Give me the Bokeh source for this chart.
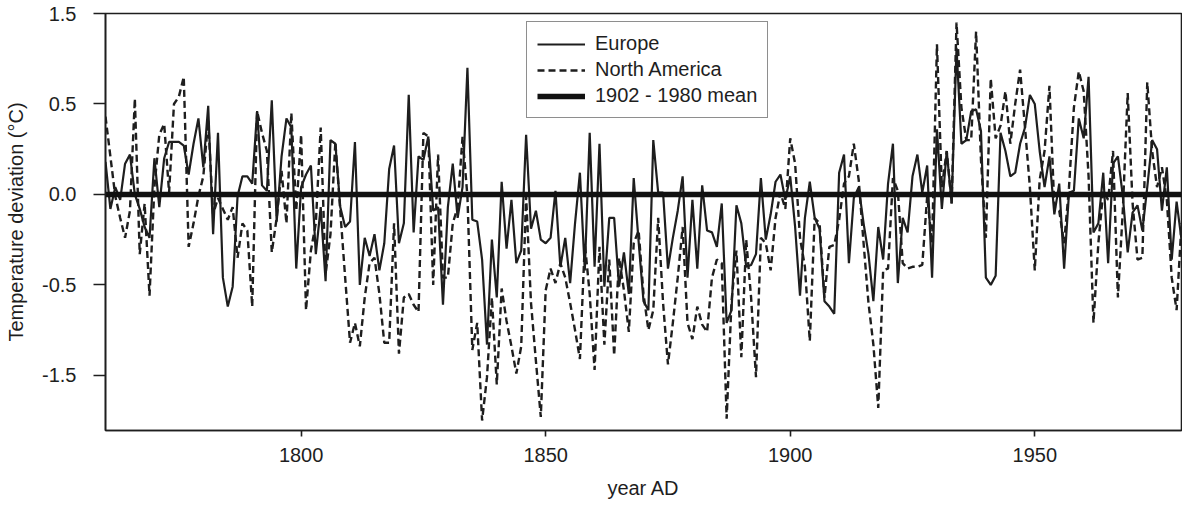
from bokeh.plotting import figure
from bokeh.models import Range1d, FixedTicker, Legend, LegendItem
from bokeh.embed import file_html
from bokeh.resources import INLINE

YEAR_START = 1760
YEAR_END = 1980
years = list(range(YEAR_START, YEAR_END + 1))

europe = [
    # 1760s
    0.18, -0.08, 0.04, -0.03, 0.17, 0.22, 0.00, -0.08, -0.18, -0.24,
    # 1770s
    0.20, -0.07, 0.20, 0.29, 0.29, 0.29, 0.27, 0.11, 0.28, 0.42,
    # 1780s
    0.15, 0.49, -0.22, 0.34, -0.46, -0.62, -0.51, -0.01, 0.10, 0.10,
    # 1790s
    0.06, 0.46, 0.05, 0.02, 0.52, -0.15, 0.21, 0.42, 0.37, -0.41,
    # 1800s
    0.04, 0.11, 0.16, -0.33, -0.07, -0.48, 0.30, 0.28, -0.07, -0.18,
    # 1810s
    -0.15, 0.29, -0.50, -0.24, -0.34, -0.22, -0.42, -0.27, 0.14, 0.27,
    # 1820s
    -0.27, -0.16, 0.55, -0.21, 0.21, 0.19, 0.32, -0.09, -0.07, -0.61,
    # 1830s
    -0.07, 0.17, -0.13, 0.04, 0.70, -0.14, -0.15, -0.36, -0.83, -0.25,
    # 1840s
    -0.57, 0.07, -0.30, -0.03, -0.38, -0.31, 0.33, -0.19, -0.09, -0.25,
    # 1850s
    -0.27, -0.24, 0.02, -0.40, -0.24, -0.49, -0.16, 0.12, -0.42, 0.34,
    # 1860s
    -0.40, 0.28, -0.51, -0.13, -0.13, -0.51, -0.32, -0.55, 0.09, -0.26,
    # 1870s
    -0.59, -0.64, 0.30, 0.01, 0.01, -0.41, -0.24, -0.09, 0.10, -0.46,
    # 1880s
    -0.03, -0.41, 0.05, -0.20, -0.21, -0.29, -0.05, -0.71, -0.64, -0.06,
    # 1890s
    -0.16, -0.40, -0.39, -0.33, 0.09, -0.25, -0.11, 0.07, 0.11, -0.03,
    # 1900s
    0.10, -0.18, -0.56, -0.13, 0.07, -0.13, -0.19, -0.59, -0.62, -0.66,
    # 1910s
    0.12, 0.22, -0.38, -0.02, 0.04, -0.16, -0.33, -0.59, -0.18, -0.36,
    # 1920s
    0.06, 0.28, -0.49, -0.13, -0.21, 0.10, 0.22, 0.01, 0.16, -0.46,
    # 1930s
    0.36, -0.08, 0.24, -0.05, 0.81, 0.28, 0.30, 0.46, 0.47, 0.35,
    # 1940s
    -0.46, -0.50, -0.45, 0.34, 0.24, 0.10, 0.12, 0.28, 0.37, 0.55,
    # 1950s
    0.50, 0.24, 0.04, 0.21, -0.11, 0.06, -0.41, 0.01, 0.02, 0.42,
    # 1960s
    0.31, 0.65, -0.21, -0.16, 0.12, -0.38, 0.17, 0.21, -0.01, -0.32,
    # 1970s
    -0.10, -0.06, -0.20, 0.04, 0.30, 0.25, -0.09, 0.15, -0.36, -0.04,
    # 1980
    -0.25,
]

north_america = [
    # 1760s
    0.43, 0.21, -0.01, -0.13, -0.24, -0.09, 0.53, -0.33, -0.05, -0.56,
    # 1770s
    0.04, 0.33, 0.39, 0.01, 0.50, 0.54, 0.65, -0.29, -0.16, -0.01,
    # 1780s
    0.10, 0.41, -0.11, -0.02, -0.08, -0.14, -0.07, -0.35, -0.16, -0.20,
    # 1790s
    -0.62, 0.46, 0.34, 0.24, -0.32, -0.13, 0.13, -0.16, 0.45, -0.09,
    # 1800s
    0.33, -0.64, -0.31, -0.16, 0.37, -0.44, -0.22, 0.29, -0.09, -0.46,
    # 1810s
    -0.82, -0.71, -0.84, -0.57, -0.38, -0.35, -0.55, -0.82, -0.82, -0.16,
    # 1820s
    -0.88, -0.57, -0.55, -0.61, -0.65, 0.34, 0.32, -0.50, 0.22, -0.46,
    # 1830s
    -0.46, -0.16, -0.07, 0.32, -0.01, -0.86, -0.71, -1.25, -1.01, -0.57,
    # 1840s
    -1.05, -0.52, -0.70, -0.84, -0.99, -0.84, -0.01, -0.60, -0.92, -1.23,
    # 1850s
    -0.53, -0.41, -0.49, -0.38, -0.46, -0.60, -0.75, -0.91, -0.27, -0.55,
    # 1860s
    -0.97, -0.29, -0.83, -0.36, -0.89, -0.35, -0.53, -0.76, -0.27, -0.20,
    # 1870s
    -0.55, -0.75, -0.64, -0.13, -0.60, -0.94, -0.71, -0.46, -0.18, -0.71,
    # 1880s
    -0.80, -0.62, -0.72, -0.76, -0.46, -0.36, -0.38, -1.24, -0.59, -0.31,
    # 1890s
    -0.90, -0.25, -0.57, -1.01, -0.24, -0.27, -0.42, -0.13, 0.01, -0.08,
    # 1900s
    0.31, 0.17, -0.24, -0.40, -0.81, -0.13, -0.16, -0.57, -0.29, -0.28,
    # 1910s
    -0.14, 0.06, 0.10, 0.28, 0.08, -0.27, -0.60, -0.83, -1.18, -0.42,
    # 1920s
    -0.41, 0.09, 0.02, -0.38, -0.41, -0.40, -0.40, -0.39, -0.01, -0.27,
    # 1930s
    0.83, 0.04, 0.24, -0.05, 0.95, 0.48, 0.30, 0.30, 0.90, 0.19,
    # 1940s
    -0.24, 0.64, 0.31, 0.38, 0.57, 0.28, 0.50, 0.69, 0.37, 0.04,
    # 1950s
    -0.42, 0.08, 0.24, 0.60, -0.07, -0.09, -0.27, 0.04, 0.48, 0.68,
    # 1960s
    0.57, 0.10, -0.71, -0.27, 0.02, -0.03, 0.24, -0.57, -0.09, 0.56,
    # 1970s
    -0.05, -0.36, -0.35, 0.62, 0.24, 0.04, 0.15, -0.03, -0.46, -0.64,
    # 1980
    -0.16,
]

mean_value = 0.0
mean_years = [YEAR_START, YEAR_END]
mean_line = [mean_value, mean_value]

y_tick_positions = [1.0, 0.5, 0.0, -0.5, -1.0]
y_tick_labels = ["1.5", "0.5", "0.0", "-0.5", "-1.5"]
x_tick_positions = [1800, 1850, 1900, 1950]

FONT = "Liberation Sans"
INK = "#1e1e1e"
FS = "20px"

p = figure(
    width=1182, height=506,
    output_backend="svg", toolbar_location=None,
    x_range=Range1d(YEAR_START, YEAR_END),
    y_range=Range1d(-1.305, 1.0),
    min_border_left=105, min_border_right=1, min_border_top=13, min_border_bottom=76,
)
p.background_fill_color = "white"
p.border_fill_color = "white"
p.outline_line_color = INK
p.outline_line_width = 1.6
p.xgrid.visible = False
p.ygrid.visible = False

r_eu = p.line(years, europe, line_color=INK, line_width=2.2)
r_na = p.line(years, north_america, line_color=INK, line_width=2.4, line_dash="7 4")
r_mean = p.line(mean_years, mean_line, line_color="#111111", line_width=5.5)

for ax in (p.xaxis[0], p.yaxis[0]):
    ax.axis_line_color = INK
    ax.axis_line_width = 1.6
    ax.major_tick_line_color = INK
    ax.major_tick_line_width = 1.6
    ax.major_tick_in = 0
    ax.minor_tick_line_color = None
    ax.major_label_text_font = FONT
    ax.major_label_text_font_size = FS
    ax.major_label_text_color = INK
    ax.axis_label_text_font = FONT
    ax.axis_label_text_font_size = FS
    ax.axis_label_text_font_style = "normal"
    ax.axis_label_text_color = INK

p.xaxis.ticker = FixedTicker(ticks=x_tick_positions)
p.xaxis.major_tick_out = 6
p.xaxis.major_label_standoff = 11
p.xaxis.axis_label = "year AD"
p.xaxis.axis_label_standoff = 12

p.yaxis.ticker = FixedTicker(ticks=y_tick_positions)
p.yaxis.major_label_overrides = {t: l for t, l in zip(y_tick_positions, y_tick_labels)}
p.yaxis.major_tick_out = 12
p.yaxis.major_label_standoff = 17
p.yaxis.axis_label = "Temperature deviation (°C)"
p.yaxis.axis_label_standoff = 12

legend = Legend(
    items=[
        LegendItem(label="Europe", renderers=[r_eu]),
        LegendItem(label="North America", renderers=[r_na]),
        LegendItem(label="1902 - 1980 mean", renderers=[r_mean]),
    ],
    location=(421, 312),
    orientation="vertical",
    glyph_width=48, glyph_height=20, label_height=20,
    label_standoff=10, spacing=3, padding=10, margin=0,
    border_line_color=INK, border_line_width=1.2,
    background_fill_color="white", background_fill_alpha=1.0,
    label_text_font=FONT, label_text_font_size=FS, label_text_color=INK,
)
p.add_layout(legend, "center")

open("out.html", "w").write(file_html(p, INLINE))
